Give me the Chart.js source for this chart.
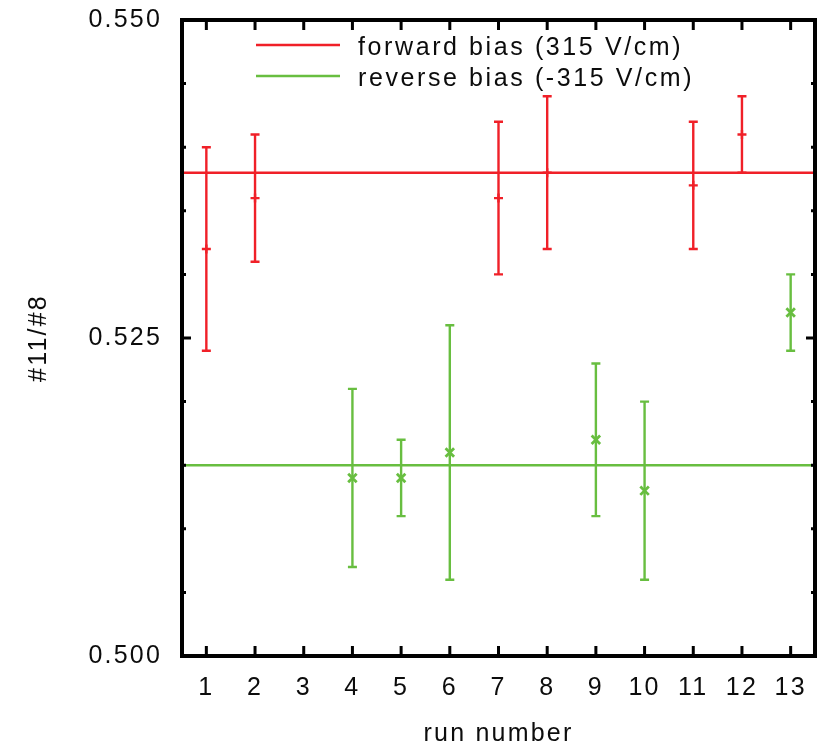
<!DOCTYPE html>
<html>
<head>
<meta charset="utf-8">
<script src="https://cdn.jsdelivr.net/npm/chart.js@4.4.1/dist/chart.umd.min.js"></script>
<style>
  html, body { margin: 0; padding: 0; background: #ffffff; }
  canvas { display: block; }
</style>
</head>
<body>
<canvas id="c" width="827" height="746"></canvas>
<script>
// ---- data ----
const runs = [1, 2, 3, 4, 5, 6, 7, 8, 9, 10, 11, 12, 13];

const forwardLabel = 'forward bias (315 V/cm)';
const forwardRuns = [1, 2, 7, 8, 11, 12];
const forwardValues = [0.532, 0.536, 0.536, 0.538, 0.537, 0.541];
const forwardErrors = [0.008, 0.005, 0.006, 0.006, 0.005, 0.003];
const forwardFit = 0.538;

const reverseLabel = 'reverse bias (-315 V/cm)';
const reverseRuns = [4, 5, 6, 9, 10, 13];
const reverseValues = [0.514, 0.514, 0.516, 0.517, 0.513, 0.527];
const reverseErrors = [0.007, 0.003, 0.010, 0.006, 0.007, 0.003];
const reverseFit = 0.515;

const yMin = 0.500, yMax = 0.550, yStep = 0.005;
const yMajorTicks = [0.500, 0.525, 0.550];
const xTitle = 'run number';
const yTitle = '#11/#8';

// ---- styles ----
const RED = 'rgb(240,32,40)';
const GREEN = 'rgb(104,190,64)';
const TEXT = '#0c0c0c';
const FONT = '"Liberation Sans", Arial, Helvetica, sans-serif';
const FSIZE = 25;
const LSP = '2.2px';
const LEGEND_LSP = '2.6px';

const xLo = runs[0] - 0.5, xHi = runs[runs.length - 1] + 0.5;

function pts(xs, ys, errs) {
  return xs.map((x, i) => ({ x: x, y: ys[i], e: errs[i] }));
}

const spacingPlugin = {
  id: 'spacing',
  beforeUpdate(c) { c.ctx.letterSpacing = LSP; },
  beforeLayout(c) { c.ctx.letterSpacing = LSP; },
  beforeDraw(c) { c.ctx.letterSpacing = LSP; }
};

const errorBarPlugin = {
  id: 'errorBars',
  afterDatasetsDraw(c) {
    const ctx = c.ctx, xs = c.scales.x, ys = c.scales.y, a = c.chartArea;
    ctx.save();
    ctx.beginPath();
    ctx.rect(a.left, a.top, a.right - a.left, a.bottom - a.top);
    ctx.clip();
    c.data.datasets.forEach(ds => {
      if (!ds.errorBars) return;
      ctx.strokeStyle = ds.borderColor;
      ctx.lineWidth = 2.4;
      ds.data.forEach(p => {
        const px = xs.getPixelForValue(p.x);
        const top = ys.getPixelForValue(p.y + p.e);
        const bot = ys.getPixelForValue(p.y - p.e);
        ctx.beginPath();
        ctx.moveTo(px, top); ctx.lineTo(px, bot);
        ctx.moveTo(px - 4.5, top); ctx.lineTo(px + 4.5, top);
        ctx.moveTo(px - 4.5, bot); ctx.lineTo(px + 4.5, bot);
        ctx.stroke();
      });
    });
    ctx.restore();
  }
};

const framePlugin = {
  id: 'frame',
  afterDraw(c) {
    const ctx = c.ctx, xs = c.scales.x, ys = c.scales.y, a = c.chartArea;
    ctx.save();
    ctx.strokeStyle = '#000';
    // x ticks (inward, bottom & top)
    ctx.lineWidth = 3;
    ctx.beginPath();
    runs.forEach(r => {
      const px = xs.getPixelForValue(r);
      ctx.moveTo(px, a.bottom); ctx.lineTo(px, a.bottom - 10);
      ctx.moveTo(px, a.top); ctx.lineTo(px, a.top + 10);
    });
    ctx.stroke();
    // y ticks (major longer, minor short), left & right
    ys.ticks.forEach(t => {
      const v = t.value;
      const major = yMajorTicks.some(m => Math.abs(m - v) < 1e-6);
      const len = major ? 9 : 4;
      const py = ys.getPixelForValue(v);
      ctx.beginPath();
      ctx.moveTo(a.left, py); ctx.lineTo(a.left + len, py);
      ctx.moveTo(a.right, py); ctx.lineTo(a.right - len, py);
      ctx.stroke();
    });
    // frame
    ctx.lineWidth = 4;
    ctx.strokeRect(a.left, a.top, a.right - a.left, a.bottom - a.top);
    // legend
    ctx.letterSpacing = LEGEND_LSP;
    ctx.font = FSIZE + 'px ' + FONT;
    ctx.fillStyle = TEXT;
    ctx.textAlign = 'left';
    ctx.textBaseline = 'alphabetic';
    const legend = [
      { label: forwardLabel, color: RED, y: 45 },
      { label: reverseLabel, color: GREEN, y: 76 }
    ];
    legend.forEach(l => {
      ctx.strokeStyle = l.color;
      ctx.lineWidth = 2.5;
      ctx.beginPath();
      ctx.moveTo(256, l.y); ctx.lineTo(340, l.y);
      ctx.stroke();
      ctx.fillText(l.label, 358, l.y + 10);
    });
    ctx.restore();
  }
};

new Chart(document.getElementById('c'), {
  data: {
    datasets: [
      {
        type: 'line', label: forwardLabel + ' fit',
        data: [{ x: xLo, y: forwardFit }, { x: xHi, y: forwardFit }],
        borderColor: RED, borderWidth: 2.5, pointRadius: 0, fill: false
      },
      {
        type: 'line', label: reverseLabel + ' fit',
        data: [{ x: xLo, y: reverseFit }, { x: xHi, y: reverseFit }],
        borderColor: GREEN, borderWidth: 2.5, pointRadius: 0, fill: false
      },
      {
        type: 'scatter', label: forwardLabel, errorBars: true,
        data: pts(forwardRuns, forwardValues, forwardErrors),
        borderColor: RED, backgroundColor: RED,
        pointStyle: 'cross', pointRadius: 4.5, pointBorderWidth: 2.4
      },
      {
        type: 'scatter', label: reverseLabel, errorBars: true,
        data: pts(reverseRuns, reverseValues, reverseErrors),
        borderColor: GREEN, backgroundColor: GREEN,
        pointStyle: 'crossRot', pointRadius: 6, pointBorderWidth: 2.8
      }
    ]
  },
  options: {
    responsive: false,
    animation: false,
    events: [],
    layout: { padding: { top: 20, right: 12, left: 0, bottom: -3 } },
    plugins: { legend: { display: false }, tooltip: { enabled: false } },
    scales: {
      x: {
        type: 'linear', min: xLo, max: xHi,
        afterBuildTicks: s => { s.ticks = runs.map(v => ({ value: v })); },
        afterFit: s => { s.height = 93; s.paddingLeft = 0; s.paddingRight = 0; },
        ticks: {
          autoSkip: false, maxRotation: 0, padding: 17, color: TEXT,
          font: { family: FONT, size: FSIZE },
          callback: v => String(v)
        },
        grid: { display: false, drawTicks: false },
        border: { display: false },
        title: {
          display: true, text: xTitle, color: TEXT,
          font: { family: FONT, size: FSIZE }, padding: { top: 0, bottom: 0 }
        }
      },
      y: {
        type: 'linear', min: yMin, max: yMax,
        afterFit: s => { s.width = 182; s.paddingTop = 0; s.paddingBottom = 0; },
        ticks: {
          stepSize: yStep, autoSkip: false, padding: 20, color: TEXT,
          font: { family: FONT, size: FSIZE },
          callback: v => yMajorTicks.some(m => Math.abs(m - v) < 1e-6) ? v.toFixed(3) : ''
        },
        grid: { display: false, drawTicks: false },
        border: { display: false },
        title: {
          display: true, text: yTitle, color: TEXT,
          font: { family: FONT, size: FSIZE }, padding: { top: 24, bottom: 0 }
        }
      }
    }
  },
  plugins: [spacingPlugin, errorBarPlugin, framePlugin]
});
</script>
</body>
</html>
